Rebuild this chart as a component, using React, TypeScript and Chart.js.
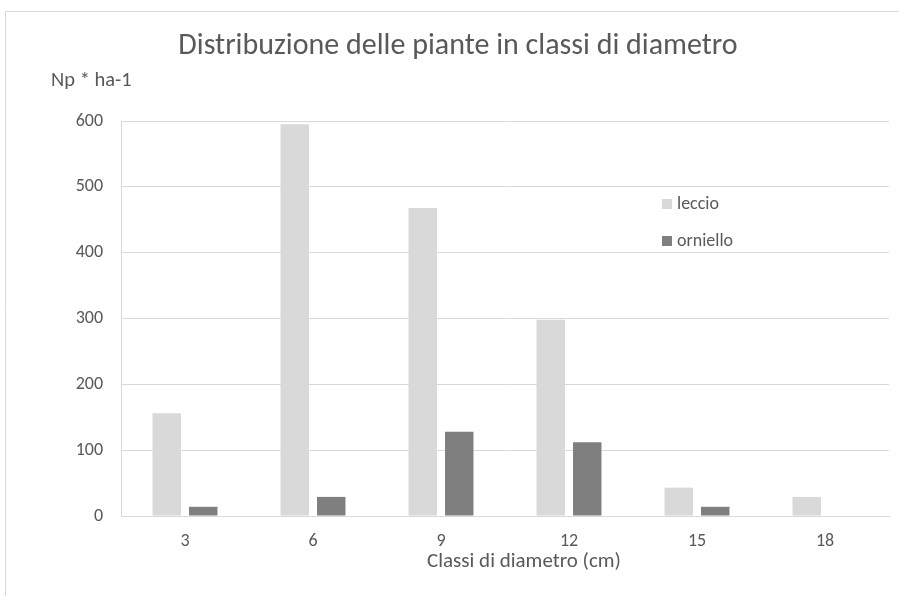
import React, { useEffect, useRef } from "react";
import { Chart, registerables } from "chart.js";

Chart.register(...registerables);

const categories = ["3", "6", "9", "12", "15", "18"];
const leccio = [156, 595, 468, 298, 43, 29];
const orniello = [14, 29, 128, 112, 14, 0];
const seriesNames = ["leccio", "orniello"];
const seriesColors = ["#d9d9d9", "#7f7f7f"];
const titleText = "Distribuzione delle piante in classi di diametro";
const yTitleText = "Np * ha-1";
const xTitleText = "Classi di diametro (cm)";

const FONT = "Carlito, Lato, 'Open Sans', sans-serif";
const TEXT = "#595959";
const GRID = "#d9d9d9";

const decorPlugin = {
  id: "decor",
  beforeDraw(chart: any) {
    const ctx = chart.ctx;
    ctx.save();
    ctx.fillStyle = "#ffffff";
    ctx.fillRect(0, 0, chart.width, chart.height);
    ctx.strokeStyle = GRID;
    ctx.lineWidth = 1;
    ctx.beginPath();
    ctx.moveTo(5.5, chart.height + 5);
    ctx.lineTo(5.5, 11.5);
    ctx.lineTo(chart.width + 5, 11.5);
    ctx.stroke();
    ctx.restore();
  },
  afterDraw(chart: any) {
    const ctx = chart.ctx;
    ctx.save();
    ctx.fillStyle = TEXT;
    ctx.textBaseline = "alphabetic";
    ctx.textAlign = "center";
    ctx.font = `300 30px ${FONT}`;
    ctx.fillText(titleText, 458, 54);
    ctx.font = `21px ${FONT}`;
    ctx.fillText(xTitleText, 524, 567);
    ctx.textAlign = "left";
    ctx.font = `20.5px ${FONT}`;
    ctx.fillText(yTitleText, 51, 86);
    // legend
    ctx.font = `18px ${FONT}`;
    ctx.textBaseline = "middle";
    const lx = 662;
    const ys = [204, 241];
    seriesNames.forEach((name, i) => {
      ctx.fillStyle = seriesColors[i];
      ctx.fillRect(lx, ys[i] - 5, 10, 10);
      ctx.fillStyle = TEXT;
      ctx.fillText(name, lx + 15, ys[i]);
    });
    ctx.restore();
  },
};

export default function App() {
  const ref = useRef<HTMLCanvasElement>(null);
  useEffect(() => {
    document.body.style.margin = "0";
    const chart = new Chart(ref.current!, {
      type: "bar",
      data: {
        labels: categories,
        datasets: [
          { label: seriesNames[0], data: leccio, backgroundColor: seriesColors[0] },
          { label: seriesNames[1], data: orniello, backgroundColor: seriesColors[1] },
        ],
      },
      options: {
        animation: false,
        responsive: true,
        maintainAspectRatio: false,
        layout: { padding: { left: 0, top: 121, right: 10, bottom: 0 } },
        datasets: { bar: { categoryPercentage: 0.57, barPercentage: 0.78 } } as any,
        plugins: {
          legend: { display: false },
          title: { display: false },
          tooltip: { enabled: false },
        },
        scales: {
          x: {
            grid: { display: false, drawTicks: false },
            border: { display: true, color: GRID, width: 1 },
            ticks: { color: TEXT, font: { family: FONT, size: 18 }, padding: 15 },
            afterFit(scale: any) {
              scale.height = 80;
            },
          },
          y: {
            min: 0,
            max: 600,
            ticks: { stepSize: 100, color: TEXT, font: { family: FONT, size: 18 }, padding: 18 },
            grid: { color: GRID, drawTicks: false },
            border: { display: true, color: GRID, width: 1 },
            afterFit(scale: any) {
              scale.width = 121;
            },
          },
        },
      },
      plugins: [decorPlugin],
    });
    return () => chart.destroy();
  }, []);
  return (
    <div style={{ position: "fixed", left: 0, top: 0, width: 899, height: 596 }}>
      <canvas ref={ref} />
    </div>
  );
}
